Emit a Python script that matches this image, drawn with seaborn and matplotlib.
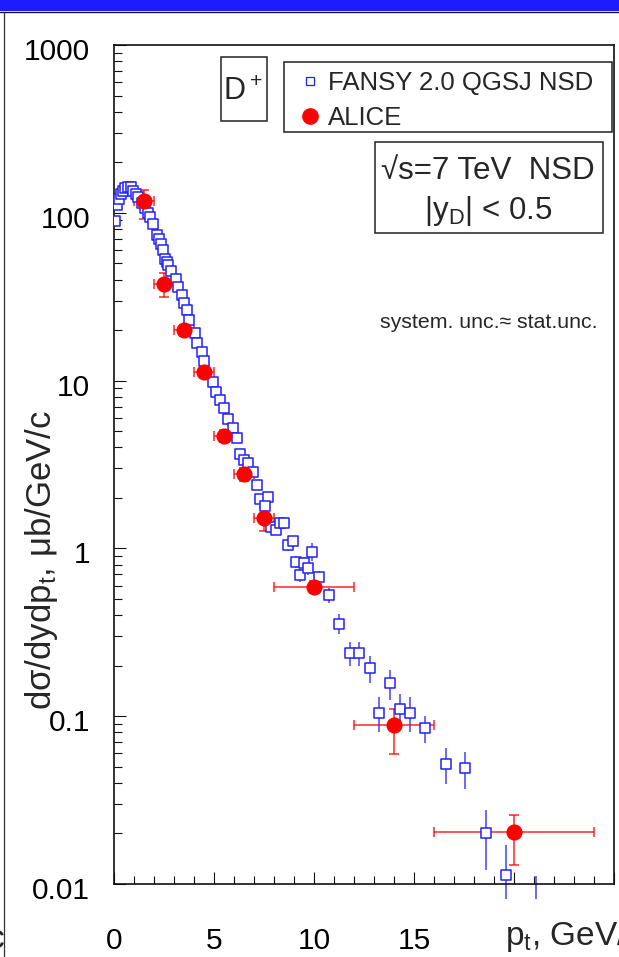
import numpy as np
import pandas as pd
import matplotlib
matplotlib.use('Agg')
import matplotlib.pyplot as plt
import seaborn as sns
from matplotlib.lines import Line2D
from matplotlib.patches import Rectangle
from matplotlib import font_manager
import matplotlib.transforms as mtrans
from matplotlib.ticker import FixedLocator, MultipleLocator, LogLocator, NullFormatter

# ---------------- data ----------------
fansy_pt = [0.05, 0.17, 0.25, 0.33, 0.43, 0.55, 0.72, 0.83, 0.97, 1.10,
            1.22, 1.38, 1.55, 1.68, 1.80, 1.93, 2.13, 2.25, 2.35, 2.43,
            2.55, 2.63, 2.72, 2.83, 3.10, 3.18, 3.38, 3.50, 3.63, 3.77,
            4.05, 4.17, 4.38, 4.50, 4.93, 5.10, 5.30, 5.50, 5.72, 5.93,
            6.13, 6.30, 6.52, 6.72, 6.93, 7.13, 7.30, 7.68, 7.55, 7.83,
            8.10, 8.30, 8.52, 8.72, 8.93, 9.10, 9.30, 9.50, 9.72, 9.92,
            10.27, 10.75, 11.27, 11.81, 12.27, 12.79, 13.26, 13.78, 14.30, 14.79,
            15.57, 16.58, 17.57, 18.60, 19.59, 21.10]
fansy_val = [89.8, 111.3, 120.4, 129.4, 135.4, 140.0, 143.0, 141.9, 135.4, 129.4,
             124.7, 114.0, 106.4, 100.1, 94.8, 85.8, 73.8, 69.5, 65.2, 60.0,
             52.8, 51.1, 48.9, 45.2, 40.5, 36.0, 32.4, 28.9, 26.3, 23.0,
             19.1, 16.7, 14.9, 13.0, 9.85, 8.59, 7.66, 6.84, 5.88, 5.20,
             4.53, 3.65, 3.36, 3.21, 2.86, 2.39, 1.96, 2.02, 1.79, 1.35,
             1.29, 1.41, 1.42, 1.048, 1.107, 0.833, 0.694, 0.815, 0.761, 0.956,
             0.673, 0.528, 0.356, 0.238, 0.238, 0.193, 0.105, 0.157, 0.110, 0.105,
             0.085, 0.0519, 0.0489, 0.0201, 0.0113, 0.0085]
fansy_err_lo = [2.0, 2.5, 2.6, 2.8, 2.9, 3.0, 3.0, 3.0, 2.9, 2.8,
                2.7, 2.5, 2.4, 2.3, 2.2, 2.0, 1.8, 1.7, 1.6, 1.5,
                1.4, 1.3, 1.3, 1.2, 1.1, 1.0, 0.9, 0.85, 0.8, 0.7,
                0.6, 0.55, 0.5, 0.45, 0.36, 0.33, 0.3, 0.27, 0.24, 0.15,
                0.14, 0.12, 0.12, 0.12, 0.11, 0.10, 0.09, 0.09, 0.09, 0.08,
                0.08, 0.08, 0.08, 0.08, 0.08, 0.07, 0.06, 0.07, 0.07, 0.12,
                0.06, 0.055, 0.048, 0.038, 0.038, 0.035, 0.025, 0.032, 0.025, 0.025,
                0.016, 0.0127, 0.012, 0.0079, 0.0032, 0.0004]
fansy_err_hi = [2.0, 2.5, 2.6, 2.8, 2.9, 3.0, 3.0, 3.0, 2.9, 2.8,
                2.7, 2.5, 2.4, 2.3, 2.2, 2.0, 1.8, 1.7, 1.6, 1.5,
                1.4, 1.3, 1.3, 1.2, 1.1, 1.0, 0.9, 0.85, 0.8, 0.7,
                0.6, 0.55, 0.5, 0.45, 0.36, 0.33, 0.3, 0.27, 0.24, 0.15,
                0.14, 0.12, 0.12, 0.12, 0.11, 0.10, 0.09, 0.09, 0.09, 0.08,
                0.08, 0.08, 0.08, 0.08, 0.08, 0.07, 0.06, 0.07, 0.07, 0.12,
                0.06, 0.055, 0.048, 0.038, 0.038, 0.035, 0.025, 0.032, 0.025, 0.025,
                0.015, 0.0127, 0.012, 0.0074, 0.0058, 0.0027]

alice_pt = [1.5, 2.5, 3.5, 4.5, 5.5, 6.5, 7.5, 10.0, 14.0, 20.0]
alice_xerr = [0.5, 0.5, 0.5, 0.5, 0.5, 0.5, 0.5, 2.0, 2.0, 4.0]
alice_val = [117.0, 37.7, 20.0, 11.3, 4.68, 2.78, 1.52, 0.589, 0.0888, 0.0204]
alice_err_lo = [25.0, 6.2, 1.5, 0.95, 0.4, 0.25, 0.25, 0.05, 0.029, 0.0074]
alice_err_hi = [20.0, 6.0, 1.5, 1.5, 0.4, 0.25, 0.25, 0.05, 0.022, 0.0055]

x_ticks = [0, 5, 10, 15, 20, 25]
x_ticklabels = ['0', '5', '10', '15', '', '']
y_ticks = [0.01, 0.1, 1, 10, 100, 1000]
y_ticklabels = ['0.01', '0.1', '1', '10', '100', '1000']

# ---------------- style ----------------
sns.set_theme(style='ticks')
plt.rcParams['font.family'] = ['Liberation Sans', 'DejaVu Sans']
plt.rcParams['mathtext.default'] = 'regular'

BLUE = '#2020ff'
RED = '#ff0000'

W, H = 619, 957
fig = plt.figure(figsize=(W / 100, H / 100), dpi=100)
fig.patch.set_facecolor('white')


def fx(x):
    return x / W


def fy(y):
    return 1 - y / H


ax = fig.add_axes([fx(114), fy(884), fx(614) - fx(114), fy(45) - fy(884)])
ax.set_facecolor('white')

df_f = pd.DataFrame({'pt': fansy_pt, 'val': fansy_val})
df_a = pd.DataFrame({'pt': alice_pt, 'val': alice_val})

ax.set_yscale('log')

ax.errorbar(fansy_pt, fansy_val, yerr=[fansy_err_lo, fansy_err_hi], fmt='none',
            ecolor=BLUE, elinewidth=1.1, capsize=0, zorder=2, clip_on=False, alpha=0.85)
ax.errorbar(alice_pt, alice_val, xerr=alice_xerr, yerr=[alice_err_lo, alice_err_hi],
            fmt='none', ecolor=RED, elinewidth=1.1, capsize=3.6, capthick=1.1,
            zorder=3, alpha=0.85)
sns.scatterplot(data=df_f, x='pt', y='val', marker='s', s=52, color='white',
                edgecolor=BLUE, linewidth=1.1, ax=ax, zorder=4, legend=False)
sns.scatterplot(data=df_a, x='pt', y='val', marker='o', s=135, color=RED,
                edgecolor=RED, linewidth=0, ax=ax, zorder=5, legend=False)

ax.set_xlim(0, 25)
ax.set_ylim(0.01, 1000)
ax.set_xlabel('')
ax.set_ylabel('')

for sp in ax.spines.values():
    sp.set_linewidth(1.2)
    sp.set_color('#111111')

ax.xaxis.set_major_locator(FixedLocator(x_ticks))
ax.set_xticklabels(x_ticklabels)
ax.xaxis.set_minor_locator(MultipleLocator(1))
ax.yaxis.set_major_locator(FixedLocator(y_ticks))
ax.yaxis.set_minor_locator(LogLocator(base=10, subs=np.arange(2, 10)))
ax.yaxis.set_minor_formatter(NullFormatter())
ax.set_yticklabels([])
ax.tick_params(axis='both', which='major', direction='in', length=8.5, width=0.8,
               color='#111111', top=False, right=False)
ax.tick_params(axis='both', which='minor', direction='in', length=5.8, width=0.8,
               color='#111111', top=False, right=False)
ax.tick_params(axis='x', which='major', labelsize=21.5, pad=31, labelcolor='black')

ytrans = mtrans.offset_copy(ax.get_yaxis_transform(), fig=fig, x=0, y=-7, units='dots')
for v, lab in zip(y_ticks, y_ticklabels):
    ax.text(-0.048, v, lab, transform=ytrans, ha='right', va='center',
            fontsize=21.5, color='black', clip_on=False)

# axis titles
fig.text(fx(42), fy(560), 'd\u03c3/dydp$_t$, \u03bcb/GeV/c', rotation=90,
         ha='center', va='center', fontsize=25)
fig.text(fx(505), fy(937), 'p$_t$, GeV/c', ha='left', va='center', fontsize=24)
fig.text(fx(4), fy(940), 'c', ha='right', va='center', fontsize=24)

# legend
handles = [Line2D([], [], marker='s', ls='none', mfc='white', mec=BLUE, ms=5.5, mew=0.9),
           Line2D([], [], marker='o', ls='none', mfc=RED, mec=RED, ms=11)]
leg = ax.legend(handles, ['FANSY 2.0 QGSJ NSD', 'ALICE'], loc='upper left',
                bbox_to_anchor=(fx(300), fy(71)), bbox_transform=fig.transFigure,
                frameon=False, borderpad=0, borderaxespad=0, handlelength=0.8,
                handletextpad=0.3, labelspacing=0.42, fontsize=18.5)

# boxes
for (x0, y0, x1, y1) in [(284, 62, 612, 132), (221, 57, 267, 121), (375, 142, 603, 233)]:
    fig.patches.append(Rectangle((fx(x0), fy(y1)), fx(x1) - fx(x0), fy(y0) - fy(y1),
                                 transform=fig.transFigure, fill=False,
                                 edgecolor='#222222', linewidth=1.1, zorder=10))

fig.text(fx(243), fy(92), 'D$^+$', ha='center', va='center', fontsize=22)
fig.text(fx(488), fy(171), '\u221as=7 TeV  NSD', ha='center', va='center', fontsize=22.5)
fig.text(fx(488), fy(211), '|y$_D$| < 0.5', ha='center', va='center', fontsize=22.5)
fig.text(fx(489), fy(322), 'system. unc.\u2248 stat.unc.', ha='center', va='center',
         fontsize=15.3)

# slide frame decorations
fig.patches.append(Rectangle((0, fy(11)), 1, fy(0) - fy(11), transform=fig.transFigure,
                             facecolor='#1c1cff', edgecolor='none', zorder=1))
fig.add_artist(Line2D([0, 1], [fy(11.5), fy(11.5)], transform=fig.transFigure,
                      color='#111133', linewidth=1.0))
fig.add_artist(Line2D([fx(3.5), fx(3.5)], [fy(12), 0], transform=fig.transFigure,
                      color='#333333', linewidth=0.9))

fig.savefig('out.png', dpi=100, facecolor='white')
